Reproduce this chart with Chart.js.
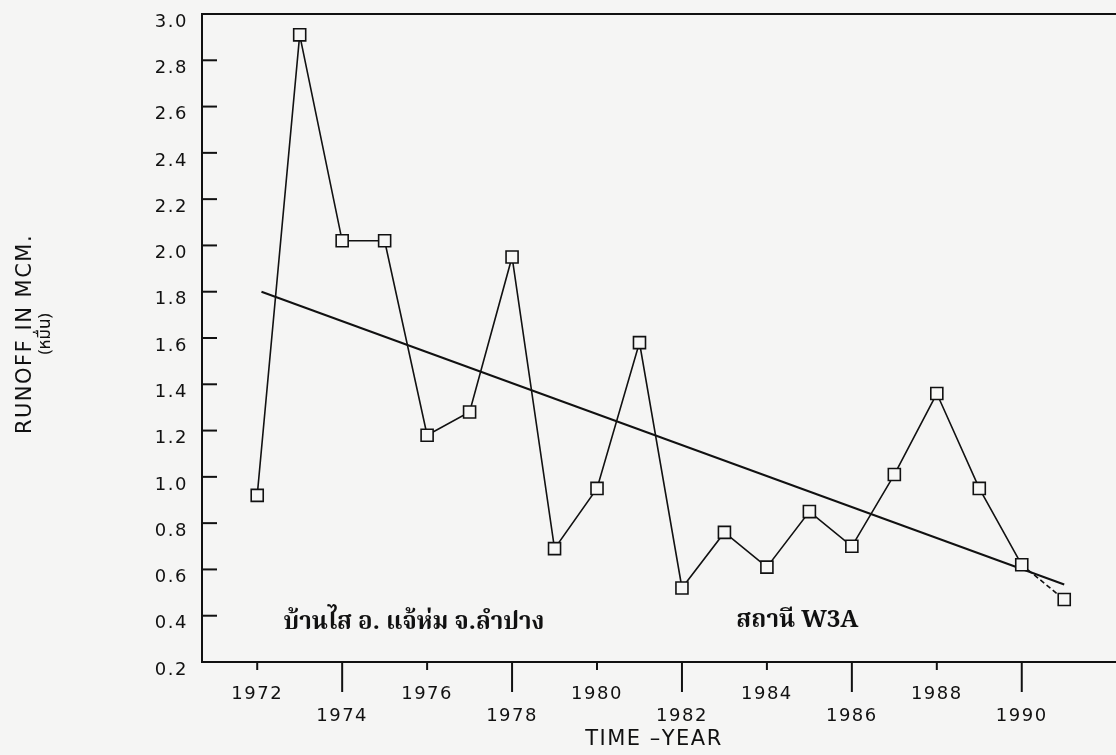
<!DOCTYPE html>
<html>
<head>
<meta charset="utf-8">
<script src="https://cdn.jsdelivr.net/npm/chart.js@4.4.1/dist/chart.umd.min.js"></script>
<style>
  html, body { margin: 0; padding: 0; background: #f5f5f4; overflow: hidden; }
  #wrap { width: 1116px; height: 755px; position: relative; overflow: hidden; }
  #c { position: absolute; left: 0; top: 0; }
</style>
</head>
<body>
<div id="wrap"><canvas id="c" width="1127" height="755"></canvas></div>
<script>
// ---- data ----
const years = [1972, 1973, 1974, 1975, 1976, 1977, 1978, 1979, 1980, 1981,
               1982, 1983, 1984, 1985, 1986, 1987, 1988, 1989, 1990, 1991];
const runoff = [0.92, 2.91, 2.02, 2.02, 1.18, 1.28, 1.95, 0.69, 0.95, 1.58,
                0.52, 0.76, 0.61, 0.85, 0.70, 1.01, 1.36, 0.95, 0.62, 0.47];
const trendYears = [1972.1, 1991];
const trendValues = [1.80, 0.535];
const xTickYears = [1972, 1974, 1976, 1978, 1980, 1982, 1984, 1986, 1988, 1990];
const yTitle = 'RUNOFF IN MCM.';
const yTitleUnit = '(หมื่น)';
const xTitle = 'TIME –YEAR';
const placeLabel = 'บ้านไส อ. แจ้ห่ม จ.ลำปาง';
const stationLabel = 'สถานี W3A';

const INK = '#111';
const LABEL_FONT = 'DejaVu Sans';

const decor = {
  id: 'decor',
  beforeUpdate(chart) { chart.ctx.letterSpacing = '1.5px'; },
  afterDraw(chart) {
    const {ctx, chartArea: a, scales: {x, y}} = chart;
    ctx.save();
    ctx.strokeStyle = INK;
    ctx.lineWidth = 2;
    // top frame line
    ctx.beginPath();
    ctx.moveTo(a.left - 1, a.top);
    ctx.lineTo(a.right, a.top);
    ctx.stroke();
    // y ticks inside
    y.ticks.forEach(t => {
      const py = y.getPixelForValue(t.value);
      ctx.beginPath();
      ctx.moveTo(a.left, py);
      ctx.lineTo(a.left + 15, py);
      ctx.stroke();
    });
    // x ticks outside, alternating length
    x.ticks.forEach((t, i) => {
      const px = x.getPixelForValue(t.value);
      ctx.beginPath();
      ctx.moveTo(px, a.bottom);
      ctx.lineTo(px, a.bottom + (i % 2 ? 30 : 8));
      ctx.stroke();
    });
    ctx.fillStyle = INK;
    ctx.textAlign = 'center';
    ctx.textBaseline = 'middle';
    // x axis title
    ctx.font = '21px "' + LABEL_FONT + '"';
    ctx.fillText(xTitle, 654, 740);
    // y axis title
    ctx.translate(26, 334);
    ctx.rotate(-Math.PI / 2);
    ctx.fillText(yTitle, 0, 0);
    ctx.letterSpacing = '0px';
    ctx.font = '17px "Noto Sans Thai", "Noto Sans", sans-serif';
    ctx.fillText(yTitleUnit, 0, 21);
    ctx.setTransform(1, 0, 0, 1, 0, 0);
    // Thai annotations
    ctx.letterSpacing = '0px';
    ctx.textAlign = 'left';
    ctx.font = 'bold 24px "Noto Serif Thai", "Noto Sans Thai", serif';
    ctx.fillText(placeLabel, x.getPixelForValue(1972.62), 625);
    ctx.fillText(stationLabel, x.getPixelForValue(1983.28), 623);
    ctx.restore();
    ctx.letterSpacing = '1.5px';
  }
};

new Chart(document.getElementById('c'), {
  type: 'line',
  data: {
    datasets: [
      {
        data: years.map((yr, i) => ({x: yr, y: runoff[i]})),
        borderColor: INK,
        borderWidth: 1.6,
        pointStyle: 'rect',
        pointRadius: 8.5,
        pointBorderWidth: 1.6,
        pointBorderColor: INK,
        pointBackgroundColor: '#f7f7f6',
        tension: 0,
        segment: {
          borderDash: ctx => ctx.p0DataIndex === years.length - 2 ? [5, 3] : undefined
        }
      },
      {
        data: trendYears.map((yr, i) => ({x: yr, y: trendValues[i]})),
        borderColor: INK,
        borderWidth: 2,
        pointRadius: 0,
        tension: 0
      }
    ]
  },
  options: {
    responsive: false,
    animation: false,
    events: [],
    layout: { padding: { top: 14, left: 0, right: 0, bottom: 0 } },
    plugins: { legend: { display: false }, tooltip: { enabled: false }, title: { display: false } },
    scales: {
      x: {
        type: 'linear',
        min: 1970.70,
        max: 1992.24,
        grid: { display: false, drawTicks: false },
        border: { display: true, color: INK, width: 2 },
        afterBuildTicks: s => { s.ticks = xTickYears.map(v => ({value: v})); },
        afterFit: s => { s.height = 93; s.paddingLeft = 0; s.paddingRight = 0; },
        ticks: {
          padding: 22,
          maxRotation: 0,
          autoSkip: false,
          color: INK,
          font: { family: LABEL_FONT, size: 18 },
          callback: (v, i) => i % 2 ? ['', String(v)] : String(v)
        },
        title: { display: false }
      },
      y: {
        min: 0.2,
        max: 3.0,
        grid: { display: false, drawTicks: false },
        border: { display: true, color: INK, width: 2 },
        afterFit: s => { s.width = 202; s.paddingTop = 0; s.paddingBottom = 0; },
        ticks: {
          stepSize: 0.2,
          padding: 14,
          labelOffset: 8,
          color: INK,
          font: { family: LABEL_FONT, size: 18 },
          callback: v => Number(v).toFixed(1)
        }
      }
    }
  },
  plugins: [decor]
});
</script>
</body>
</html>
